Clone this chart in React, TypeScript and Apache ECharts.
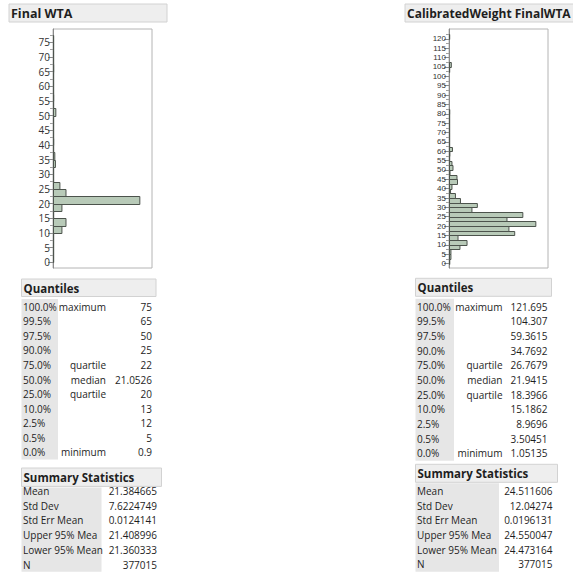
import React, { useEffect, useRef } from "react";
import * as echarts from "echarts";

// ---------- data ----------
const BIN_WIDTH = 2.5;

const leftTitle = "Final WTA";
const rightTitle = "CalibratedWeight FinalWTA";

const leftBinStarts = [
  0, 2.5, 5, 7.5, 10, 12.5, 15, 17.5, 20, 22.5, 25, 27.5, 30, 32.5, 35, 37.5,
  40, 42.5, 45, 47.5, 50, 52.5, 55, 57.5, 60, 62.5, 65, 67.5, 70, 72.5, 75,
];
const leftCounts = [
  600, 1200, 1500, 800, 22000, 32000, 1200, 22000, 214000, 32000, 17000, 1200,
  1000, 6000, 4500, 500, 2000, 200, 300, 200, 7000, 100, 2000, 100, 500, 50,
  2000, 50, 100, 50, 300,
];

const rightBinStarts = [
  0, 2.5, 5, 7.5, 10, 12.5, 15, 17.5, 20, 22.5, 25, 27.5, 30, 32.5, 35, 37.5,
  40, 42.5, 45, 47.5, 50, 52.5, 55, 57.5, 60, 62.5, 65, 67.5, 70, 72.5, 75,
  77.5, 80, 82.5, 85, 87.5, 90, 92.5, 95, 97.5, 100, 102.5, 105, 107.5, 110,
  112.5, 115, 117.5, 120,
];
const rightCounts = [
  600, 1500, 1500, 8500, 14000, 7000, 51000, 46500, 67400, 45000, 57300,
  17800, 22000, 8900, 5000, 1200, 2300, 6600, 6200, 800, 3100, 2300, 500, 700,
  2700, 300, 300, 300, 300, 300, 300, 100, 600, 0, 0, 0, 0, 0, 0, 0, 0, 500,
  1800, 0, 0, 0, 0, 0, 50,
];

const leftMajorTicks = [0, 5, 10, 15, 20, 25, 30, 35, 40, 45, 50, 55, 60, 65, 70, 75];
const leftMinorTicks = [2.5, 7.5, 12.5, 17.5, 22.5, 27.5, 32.5, 37.5, 42.5, 47.5, 52.5, 57.5, 62.5, 67.5, 72.5, 77.5];
const rightMajorTicks = [0, 5, 10, 15, 20, 25, 30, 35, 40, 45, 50, 55, 60, 65, 70, 75, 80, 85, 90, 95, 100, 105, 110, 115, 120];
const rightMinorTicks = [2.5, 7.5, 12.5, 17.5, 22.5, 27.5, 32.5, 37.5, 42.5, 47.5, 52.5, 57.5, 62.5, 67.5, 72.5, 77.5, 82.5, 87.5, 92.5, 97.5, 102.5, 107.5, 112.5, 117.5, 122.5];

const quantilePercents = ["100.0%", "99.5%", "97.5%", "90.0%", "75.0%", "50.0%", "25.0%", "10.0%", "2.5%", "0.5%", "0.0%"];
const quantileNames = ["maximum", "", "", "", "quartile", "median", "quartile", "", "", "", "minimum"];
const leftQuantileValues = ["75", "65", "50", "25", "22", "21.0526", "20", "13", "12", "5", "0.9"];
const rightQuantileValues = ["121.695", "104.307", "59.3615", "34.7692", "26.7679", "21.9415", "18.3966", "15.1862", "8.9696", "3.50451", "1.05135"];

const summaryLabels = ["Mean", "Std Dev", "Std Err Mean", "Upper 95% Mea", "Lower 95% Mean", "N"];
const leftSummaryValues = ["21.384665", "7.6224749", "0.0124141", "21.408996", "21.360333", "377015"];
const rightSummaryValues = ["24.511606", "12.04274", "0.0196131", "24.550047", "24.473164", "377015"];

// ---------- styling ----------
const FONT = "'Open Sans', 'Noto Sans', 'DejaVu Sans', sans-serif";
const NARROW_FONT = "'Liberation Sans', Arial, sans-serif";
const TEXT = "#1e1e1e";
const HEAD_BG = "#eeeeee";
const HEAD_BORDER = "#d2d2d2";
const COL_BG = "#e6e6e6";
const BAR_FILL = "#b8cab8";
const BAR_STROKE = "#4c534c";

function makeData(starts: number[], counts: number[]) {
  return starts.map((s, i) => [s, s + BIN_WIDTH, counts[i]]);
}

function headerBox(x: number, y: number, w: number, h: number, label: string, size: number) {
  return [
    {
      type: "rect",
      shape: { x, y, width: w, height: h },
      style: { fill: HEAD_BG, stroke: HEAD_BORDER, lineWidth: 1 },
      silent: true,
    },
    {
      type: "text",
      x: x + 2,
      y: y + h / 2 + 0.5,
      style: {
        text: label,
        fill: TEXT,
        font: `bold ${size}px ${FONT}`,
        lineHeight: size + 1,
        verticalAlign: "middle",
        align: "left",
      },
      silent: true,
    },
  ];
}

function txt(x: number, y: number, s: string, align: string) {
  return {
    type: "text",
    x,
    y,
    style: {
      text: s,
      fill: TEXT,
      font: `10px ${FONT}`,
      lineHeight: 12,
      verticalAlign: "middle",
      align,
    },
    silent: true,
  };
}

function quantileTable(cfg: {
  x: number; hy: number; hw: number; hh: number; colW: number;
  y0: number; dy: number; nameRight: number; valRight: number; values: string[];
}) {
  const els: any[] = [];
  els.push(...headerBox(cfg.x, cfg.hy, cfg.hw, cfg.hh, "Quantiles", 11.5));
  const top = cfg.hy + cfg.hh + 2.5;
  const bottom = cfg.y0 + cfg.dy * 10 + cfg.dy / 2;
  els.push({
    type: "rect",
    shape: { x: cfg.x, y: top, width: cfg.colW, height: bottom - top },
    style: { fill: COL_BG },
    silent: true,
  });
  quantilePercents.forEach((p, i) => {
    const y = cfg.y0 + i * cfg.dy;
    els.push(txt(cfg.x + 1.5, y, p, "left"));
    if (quantileNames[i]) els.push(txt(cfg.nameRight, y, quantileNames[i], "right"));
    els.push(txt(cfg.valRight, y, cfg.values[i], "right"));
  });
  return els;
}

function summaryTable(cfg: {
  x: number; hy: number; hw: number; hh: number; colW: number;
  y0: number; dy: number; valRight: number; values: string[];
}) {
  const els: any[] = [];
  els.push(...headerBox(cfg.x, cfg.hy, cfg.hw, cfg.hh, "Summary Statistics", 11.5));
  const top = cfg.hy + cfg.hh + 1;
  const bottom = cfg.y0 + cfg.dy * 5 + cfg.dy / 2;
  els.push({
    type: "rect",
    shape: { x: cfg.x, y: top, width: cfg.colW, height: bottom - top },
    style: { fill: COL_BG },
    silent: true,
  });
  summaryLabels.forEach((l, i) => {
    const y = cfg.y0 + i * cfg.dy;
    els.push(txt(cfg.x + 1.5, y, l, "left"));
    els.push(txt(cfg.valRight, y, cfg.values[i], "right"));
  });
  return els;
}

function histSeries(idx: number, data: number[][]) {
  return {
    type: "custom",
    xAxisIndex: idx,
    yAxisIndex: idx * 2,
    encode: { x: 2, y: [0, 1] },
    data,
    renderItem: (_params: any, api: any) => {
      const lo = api.value(0);
      const hi = api.value(1);
      const c = api.value(2);
      if (!c) return null;
      const pTop = api.coord([0, hi]);
      const pBot = api.coord([c, lo]);
      const x0 = Math.round(pTop[0]) + 0.5;
      const x1 = Math.max(pBot[0], x0 + 0.2);
      const y0 = Math.round(pTop[1]) + 0.5;
      const y1 = Math.round(pBot[1]) + 0.5;
      return {
        type: "rect",
        shape: { x: x0, y: y0, width: x1 - x0, height: y1 - y0 },
        style: { fill: BAR_FILL, stroke: BAR_STROKE, lineWidth: 1 },
      };
    },
    z: 5,
  };
}

function yAxes(
  gridIndex: number, min: number, max: number, major: number[], minor: number[],
  fontSize: number, fontFamily: string,
) {
  return [
    {
      type: "value",
      gridIndex,
      min,
      max,
      position: "left",
      splitLine: { show: false },
      axisLine: { show: true, lineStyle: { color: "#8a8a8a", width: 1 } },
      axisTick: { show: true, customValues: major, length: 5, lineStyle: { color: "#8a8a8a" } },
      axisLabel: {
        show: true,
        customValues: major,
        showMinLabel: true,
        showMaxLabel: true,
        hideOverlap: false,
        margin: 3,
        fontSize,
        fontFamily,
        color: "#333333",
        lineHeight: fontSize,
      },
    },
    {
      type: "value",
      gridIndex,
      min,
      max,
      position: "left",
      offset: 0,
      splitLine: { show: false },
      axisLine: { show: false },
      axisTick: { show: true, customValues: minor, length: 3, lineStyle: { color: "#a0a0a0" } },
      axisLabel: { show: false },
    },
  ];
}

export default function App() {
  const ref = useRef<HTMLDivElement>(null);

  useEffect(() => {
    if (!ref.current) return;
    const chart = echarts.init(ref.current, null, { renderer: "svg", width: 573, height: 573 });

    const leftMax = Math.max(...leftCounts) * 1.14;
    const rightMax = Math.max(...rightCounts) * 1.14;

    const graphic: any[] = [
      ...headerBox(9, 4, 158, 18, leftTitle, 12.5),
      ...headerBox(405, 4, 172, 18, rightTitle, 12),
      ...quantileTable({
        x: 21.5, hy: 279, hw: 134.5, hh: 17.5, colW: 36.5,
        y0: 306.7, dy: 14.56, nameRight: 106, valRight: 152, values: leftQuantileValues,
      }),
      ...quantileTable({
        x: 415.5, hy: 278.3, hw: 136, hh: 18, colW: 38.5,
        y0: 306.7, dy: 14.66, nameRight: 502.5, valRight: 547.5, values: rightQuantileValues,
      }),
      ...summaryTable({
        x: 21.5, hy: 468, hw: 140, hh: 18.4, colW: 80,
        y0: 491, dy: 14.7, valRight: 157, values: leftSummaryValues,
      }),
      ...summaryTable({
        x: 415.5, hy: 464.3, hw: 142, hh: 18, colW: 83.5,
        y0: 491, dy: 14.66, valRight: 552.5, values: rightSummaryValues,
      }),
    ];

    chart.setOption({
      animation: false,
      backgroundColor: "#ffffff",
      grid: [
        { left: 53, top: 29, width: 99, height: 239, show: true, borderColor: "#b4b4b4", borderWidth: 1, backgroundColor: "#ffffff" },
        { left: 449, top: 29, width: 99, height: 239, show: true, borderColor: "#b4b4b4", borderWidth: 1, backgroundColor: "#ffffff" },
      ],
      xAxis: [
        { type: "value", gridIndex: 0, min: 0, max: leftMax, show: false },
        { type: "value", gridIndex: 1, min: 0, max: rightMax, show: false },
      ],
      yAxis: [
        ...yAxes(0, -1.95, 79.5, leftMajorTicks, leftMinorTicks, 10, FONT),
        ...yAxes(1, -2.4, 125.3, rightMajorTicks, rightMinorTicks, 8, NARROW_FONT),
      ],
      series: [
        histSeries(0, makeData(leftBinStarts, leftCounts)),
        histSeries(1, makeData(rightBinStarts, rightCounts)),
      ],
      graphic,
    });

    return () => chart.dispose();
  }, []);

  return (
    <div
      ref={ref}
      style={{ position: "fixed", left: 0, top: 0, width: 573, height: 573, background: "#fff" }}
    />
  );
}
